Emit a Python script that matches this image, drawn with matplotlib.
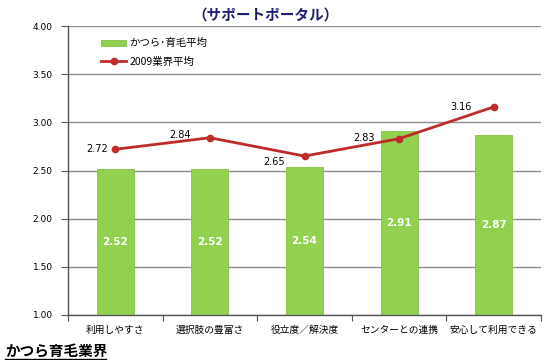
import matplotlib
matplotlib.use("Agg")
import matplotlib.pyplot as plt
import numpy as np

plt.rcParams['font.family'] = ['Noto Sans CJK JP', 'DejaVu Sans']

categories = ["利用しやすさ", "選択肢の豊富さ", "役立度／解決度", "センターとの連携", "安心して利用できる"]
bar_values = [2.52, 2.52, 2.54, 2.91, 2.87]
line_values = [2.72, 2.84, 2.65, 2.83, 3.16]
bar_name = "かつら･育毛平均"
line_name = "2009業界平均"
title = "（サポートポータル）"
footer = "かつら育毛業界"
yticks = [1.00, 1.50, 2.00, 2.50, 3.00, 3.50, 4.00]

# label offsets in pixels (dx, dy) for line value labels
label_offsets_px = [(-18, 0), (-30, 3), (-30, -6), (-35, 1), (-33, 0)]

dpi = 100
fig = plt.figure(figsize=(5.55, 3.6), dpi=dpi)
ax = fig.add_axes([68/555, 45/360, (541-68)/555, (315-26)/360])

x = np.arange(len(categories))
ax.set_xlim(-0.5, len(categories) - 0.5)
ax.set_ylim(1.0, 4.0)

ax.set_yticks(yticks)
ax.set_yticklabels([f"{v:.2f}" for v in yticks], fontsize=6.5, family=['DejaVu Sans'])
ax.yaxis.grid(True, color='#8c8c8c', linewidth=1.0)
ax.set_axisbelow(True)

bars = ax.bar(x, [v - 1.0 for v in bar_values], bottom=1.0, width=0.39,
              color='#92D050', edgecolor='#84C444', linewidth=0.6, label=bar_name, zorder=2)
for xi, v in zip(x, bar_values):
    ax.text(xi, (1.0 + v) / 2, f"{v:.2f}", color='white', ha='center', va='center',
            fontsize=7.5, fontweight='bold', family=['DejaVu Sans'], zorder=4)

line, = ax.plot(x, line_values, color='#BE2B2B', linewidth=2.0, marker='o', markersize=4.5,
                label=line_name, zorder=3)
pt = 72.0 / dpi
for xi, v, (dx, dy) in zip(x, line_values, label_offsets_px):
    ax.annotate(f"{v:.2f}", (xi, v), xytext=(dx * pt, dy * pt), textcoords='offset points',
                ha='center', va='center', fontsize=7, family=['DejaVu Sans'], color='black', zorder=4)

# x axis ticks at category boundaries
ax.set_xticks(np.arange(-0.5, len(categories), 1.0))
ax.set_xticklabels([])
ax.set_xticks(x, minor=True)
ax.set_xticklabels(categories, minor=True, fontsize=7)
ax.tick_params(axis='x', which='minor', length=0, pad=7)
ax.tick_params(axis='x', which='major', length=4, color='#555555', direction='out')
ax.tick_params(axis='y', length=5, color='#555555', direction='out', pad=6)

for s in ['top', 'right']:
    ax.spines[s].set_visible(False)
ax.spines['left'].set_color('#555555')
ax.spines['bottom'].set_color('#555555')
ax.spines['left'].set_linewidth(1.0)
ax.spines['bottom'].set_linewidth(1.0)

leg = ax.legend([bars, line], [bar_name, line_name], loc='upper left',
                bbox_to_anchor=(0.05, 0.99), frameon=False, fontsize=7.5,
                handlelength=2.4, handletextpad=0.3, labelspacing=0.8, handleheight=0.5)

fig.text(265/555, 1 - 15/360, title, ha='center', va='center', fontsize=10.5,
         fontweight='bold', color='#1E1E78')
fig.text(5/555, 1 - 351/360, footer, ha='left', va='center', fontsize=10.5,
         fontweight='bold', color='black')
# underline for footer
fig.add_artist(plt.Line2D([5/555, 106/555], [1 - 359/360, 1 - 359/360], color='black', linewidth=1.0))

fig.savefig("out.png", dpi=dpi)
